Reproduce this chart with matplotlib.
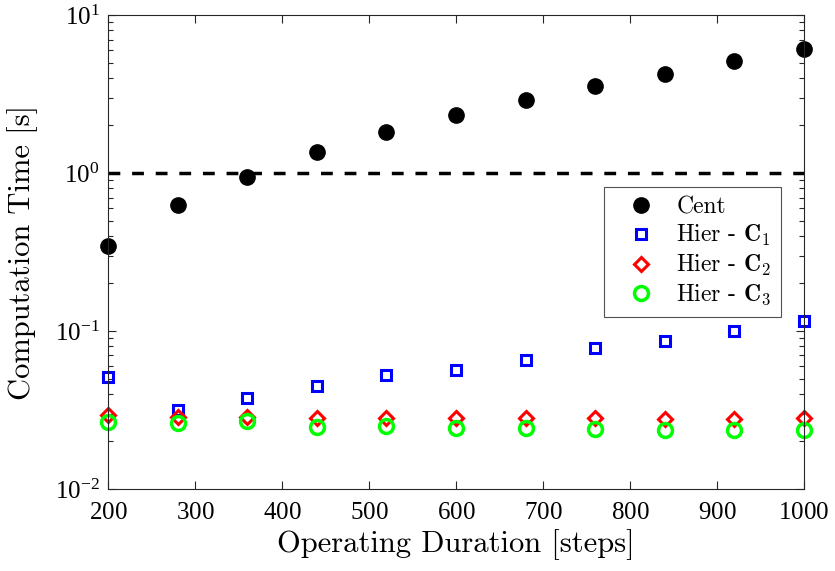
import matplotlib
import numpy as np

matplotlib.use("Agg")
import matplotlib.pyplot as plt
from matplotlib.ticker import LogLocator, MultipleLocator

plt.rcParams["font.family"] = "cmr10"
plt.rcParams["mathtext.fontset"] = "cm"
plt.rcParams["axes.formatter.use_mathtext"] = True

steps = [200, 280, 360, 440, 520, 600, 680, 760, 840, 920, 1000]
cent = [0.343, 0.63, 0.94, 1.36, 1.81, 2.32, 2.92, 3.58, 4.26, 5.14, 6.11]
hier_c1 = [0.0514, 0.0318, 0.0379, 0.0451, 0.0529, 0.0569, 0.0657, 0.0782, 0.0865, 0.100, 0.1156]
hier_c2 = [0.0292, 0.0286, 0.0286, 0.0283, 0.0283, 0.0282, 0.0281, 0.0280, 0.0278, 0.0279, 0.0280]
hier_c3 = [0.0266, 0.0262, 0.0268, 0.0248, 0.0249, 0.0244, 0.0243, 0.0240, 0.0236, 0.0236, 0.0236]
time_limit = 1.0

fig = plt.figure(figsize=(8.35, 5.71), dpi=100)
ax = fig.add_axes([0.1293, 0.1436, 0.8335, 0.830])

ax.plot([steps[0], steps[-1]], [time_limit, time_limit], color="k", ls="--", lw=2.5, dashes=(3.4, 3.4))
ax.plot(steps, cent, "o", color="k", ms=11, label="Cent", clip_on=False)
ax.plot(steps, hier_c1, "s", mfc="none", mec="#0000ff", mew=2.2, ms=7,
        label=r"Hier - $\mathbf{C}_{\mathbf{1}}$", clip_on=False)
ax.plot(steps, hier_c2, "D", mfc="none", mec="#ff0000", mew=2.2, ms=7.5,
        label=r"Hier - $\mathbf{C}_{\mathbf{2}}$", clip_on=False)
ax.plot(steps, hier_c3, "o", mfc="none", mec="#00ff00", mew=2.5, ms=10,
        label=r"Hier - $\mathbf{C}_{\mathbf{3}}$", clip_on=False)

ax.set_yscale("log")
ax.set_xlim(200, 1000)
ax.set_ylim(1e-2, 1e1)
ax.xaxis.set_major_locator(MultipleLocator(100))
ax.yaxis.set_major_locator(LogLocator(base=10, numticks=10))
ax.yaxis.set_minor_locator(LogLocator(base=10, subs=np.arange(2, 10), numticks=10))
ax.tick_params(which="both", direction="in", top=True, right=True, labelsize=18,
               color="#262626", labelfontfamily="Liberation Serif")
ax.tick_params(which="major", length=6, width=0.8)
ax.tick_params(which="minor", length=3.5, width=0.8)
ax.tick_params(axis="x", pad=9)
ax.tick_params(axis="y", pad=6)
for s in ax.spines.values():
    s.set_color("#262626")
    s.set_linewidth(0.8)

ax.set_xlabel("Operating Duration [steps]", fontsize=22, labelpad=4)
ax.set_ylabel("Computation Time [s]", fontsize=22, labelpad=12)

leg = ax.legend(loc="upper left", bbox_to_anchor=(0.713, 0.637), borderaxespad=0,
                fontsize=17, frameon=True, fancybox=False, edgecolor="#262626",
                handlelength=2.34, handletextpad=0.32, borderpad=0.4, labelspacing=0.2)
leg.get_frame().set_linewidth(0.8)

fig.savefig("out.png", dpi=100)
